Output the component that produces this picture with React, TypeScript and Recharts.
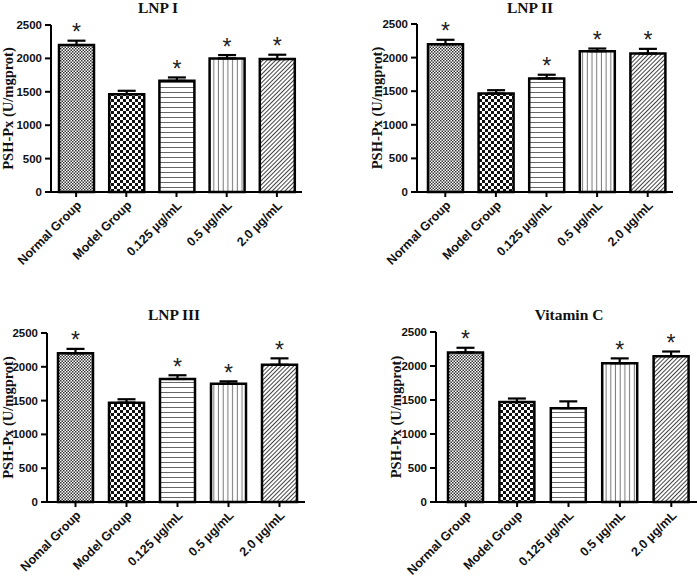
import React from 'react';
import { BarChart, Bar, XAxis, YAxis, ErrorBar, Cell, LabelList, Label } from 'recharts';

const groups = ['Normal Group', 'Model Group', '0.125 µg/mL', '0.5 µg/mL', '2.0 µg/mL'];
const groupsLnp3 = ['Nomal Group', 'Model Group', '0.125 µg/mL', '0.5 µg/mL', '2.0 µg/mL'];
const yTicks = [0, 500, 1000, 1500, 2000, 2500];

const lnp1Values = [2200, 1465, 1665, 2000, 1990];
const lnp1Errors = [65, 50, 50, 50, 65];
const lnp1Stars = [true, false, true, true, true];

const lnp2Values = [2200, 1465, 1690, 2095, 2060];
const lnp2Errors = [65, 50, 55, 40, 70];
const lnp2Stars = [true, false, true, true, true];

const lnp3Values = [2200, 1470, 1820, 1750, 2030];
const lnp3Errors = [65, 50, 55, 35, 95];
const lnp3Stars = [true, false, true, true, true];

const vitCValues = [2200, 1470, 1380, 2040, 2145];
const vitCErrors = [68, 52, 100, 72, 68];
const vitCStars = [true, false, false, true, true];

const patternIds = ['pFineCheck', 'pCoarseCheck', 'pHLines', 'pVLines', 'pDiag'];

const SANS = 'Arial, "Liberation Sans", sans-serif';
const SERIF = '"Times New Roman", "Liberation Serif", serif';

function buildRows(labels: string[], values: number[], errors: number[], stars: boolean[]) {
  return labels.map((name, i) => ({
    name,
    value: values[i],
    err: [0, errors[i]],
    se: errors[i],
    star: stars[i] ? '*' : '',
  }));
}

function Patterns() {
  return (
    <svg width={0} height={0} style={{ position: 'absolute' }}>
      <defs>
        <pattern id="pFineCheck" patternUnits="userSpaceOnUse" width={3} height={3}>
          <rect width={3} height={3} fill="#fff" />
          <rect width={1.5} height={1.5} fill="#333" />
          <rect x={1.5} y={1.5} width={1.5} height={1.5} fill="#333" />
        </pattern>
        <pattern id="pCoarseCheck" patternUnits="userSpaceOnUse" width={6} height={6}>
          <rect width={6} height={6} fill="#fff" />
          <rect width={3} height={3} fill="#111" />
          <rect x={3} y={3} width={3} height={3} fill="#111" />
        </pattern>
        <pattern id="pHLines" patternUnits="userSpaceOnUse" width={5} height={5}>
          <rect width={5} height={5} fill="#fff" />
          <line x1={0} y1={2.5} x2={5} y2={2.5} stroke="#666" strokeWidth={1} />
        </pattern>
        <pattern id="pVLines" patternUnits="userSpaceOnUse" width={4.7} height={5}>
          <rect width={4.7} height={5} fill="#fff" />
          <line x1={2.3} y1={0} x2={2.3} y2={5} stroke="#777" strokeWidth={1} />
        </pattern>
        <pattern id="pDiag" patternUnits="userSpaceOnUse" width={3} height={3} patternTransform="rotate(45)">
          <rect width={3} height={3} fill="#fff" />
          <line x1={0} y1={0} x2={0} y2={3} stroke="#222" strokeWidth={1.7} />
        </pattern>
      </defs>
    </svg>
  );
}

function XTick(props: any) {
  const { x, y, payload } = props;
  const ax = x + 6;
  const ay = y + 7;
  return (
    <text
      x={ax}
      y={ay}
      transform={`rotate(-45, ${ax}, ${ay})`}
      textAnchor="end"
      fontFamily={SANS}
      fontWeight="bold"
      fontSize={12.5}
      fill="#111"
    >
      {payload.value}
    </text>
  );
}

interface PanelProps {
  title: string;
  left: number;
  top: number;
  width: number;
  height: number;
  margin: { top: number; right: number; bottom: number; left: number };
  yWidth: number;
  xHeight: number;
  padLeft: number;
  yLabelX: number;
  titleX: number;
  titleY: number;
  rows: ReturnType<typeof buildRows>;
}

function Panel(p: PanelProps) {
  const plotH = p.height - p.margin.top - p.margin.bottom - p.xHeight;
  const labelCy = p.margin.top + plotH / 2;

  const renderStar = (lp: any) => {
    const vb = lp.viewBox ?? lp;
    const x = vb.x ?? lp.x;
    const y = vb.y ?? lp.y;
    const w = vb.width ?? lp.width;
    const h = vb.height ?? lp.height;
    const row = p.rows[lp.index];
    if (!row || !row.star) return null;
    const capY = y - (row.se * Math.abs(h)) / row.value;
    return (
      <text x={x + w / 2} y={capY - 0.5} textAnchor="middle" fontFamily={SANS} fontSize={23} fill="#222">
        *
      </text>
    );
  };

  const renderYLabel = () => (
    <text
      x={p.yLabelX}
      y={labelCy}
      transform={`rotate(-90, ${p.yLabelX}, ${labelCy})`}
      textAnchor="middle"
      dominantBaseline="central"
      fontFamily={SERIF}
      fontWeight="bold"
      fontSize={14.5}
      fill="#111"
    >
      PSH-Px (U/mgprot)
    </text>
  );

  return (
    <>
      <div
        style={{
          position: 'absolute',
          left: p.titleX - 100,
          top: p.titleY,
          width: 200,
          textAlign: 'center',
          fontFamily: SERIF,
          fontWeight: 'bold',
          fontSize: 15.5,
          lineHeight: '15px',
          color: '#111',
        }}
      >
        {p.title}
      </div>
      <div style={{ position: 'absolute', left: p.left, top: p.top }}>
        <BarChart width={p.width} height={p.height} data={p.rows} margin={p.margin}>
          <XAxis
            dataKey="name"
            interval={0}
            height={p.xHeight}
            padding={{ left: p.padLeft, right: 0 }}
            tick={<XTick />}
            tickSize={5}
            tickMargin={2}
            axisLine={{ stroke: '#000', strokeWidth: 2 }}
            tickLine={{ stroke: '#000', strokeWidth: 2 }}
          />
          <YAxis
            width={p.yWidth}
            domain={[0, 2500]}
            ticks={yTicks}
            interval={0}
            tickSize={6}
            tickMargin={3}
            tick={{ fontFamily: SANS, fontWeight: 'bold', fontSize: 11.5, fill: '#111' }}
            axisLine={{ stroke: '#000', strokeWidth: 2 }}
            tickLine={{ stroke: '#000', strokeWidth: 2 }}
          >
            <Label content={renderYLabel} />
          </YAxis>
          <Bar dataKey="value" barSize={35} stroke="#000" strokeWidth={2.5} isAnimationActive={false}>
            {p.rows.map((r, i) => (
              <Cell key={r.name} fill={`url(#${patternIds[i]})`} />
            ))}
            <ErrorBar dataKey="err" direction="y" width={9} stroke="#000" strokeWidth={2.2} />
            <LabelList dataKey="star" content={renderStar} />
          </Bar>
        </BarChart>
      </div>
    </>
  );
}

export default function App() {
  return (
    <div style={{ position: 'absolute', left: 0, top: 0, width: 697, height: 578, background: '#fff', overflow: 'hidden' }}>
      <Patterns />
      <Panel
        title="LNP I"
        left={0}
        top={0}
        width={320}
        height={280}
        margin={{ top: 25, right: 18, bottom: 8, left: 0 }}
        yWidth={51}
        xHeight={80}
        padLeft={0}
        yLabelX={8}
        titleX={158}
        titleY={0}
        rows={buildRows(groups, lnp1Values, lnp1Errors, lnp1Stars)}
      />
      <Panel
        title="LNP II"
        left={350}
        top={0}
        width={340}
        height={280}
        margin={{ top: 24, right: 17, bottom: 8, left: 16 }}
        yWidth={51}
        xHeight={80}
        padLeft={3}
        yLabelX={27}
        titleX={530}
        titleY={0}
        rows={buildRows(groups, lnp2Values, lnp2Errors, lnp2Stars)}
      />
      <Panel
        title="LNP III"
        left={0}
        top={290}
        width={320}
        height={288}
        margin={{ top: 43, right: 15, bottom: 6, left: 0 }}
        yWidth={47}
        xHeight={70}
        padLeft={3}
        yLabelX={8}
        titleX={174}
        titleY={307}
        rows={buildRows(groupsLnp3, lnp3Values, lnp3Errors, lnp3Stars)}
      />
      <Panel
        title="Vitamin C"
        left={350}
        top={290}
        width={347}
        height={288}
        margin={{ top: 42, right: 0, bottom: 6, left: 35 }}
        yWidth={51}
        xHeight={70}
        padLeft={4}
        yLabelX={46}
        titleX={569}
        titleY={307}
        rows={buildRows(groups, vitCValues, vitCErrors, vitCStars)}
      />
    </div>
  );
}
